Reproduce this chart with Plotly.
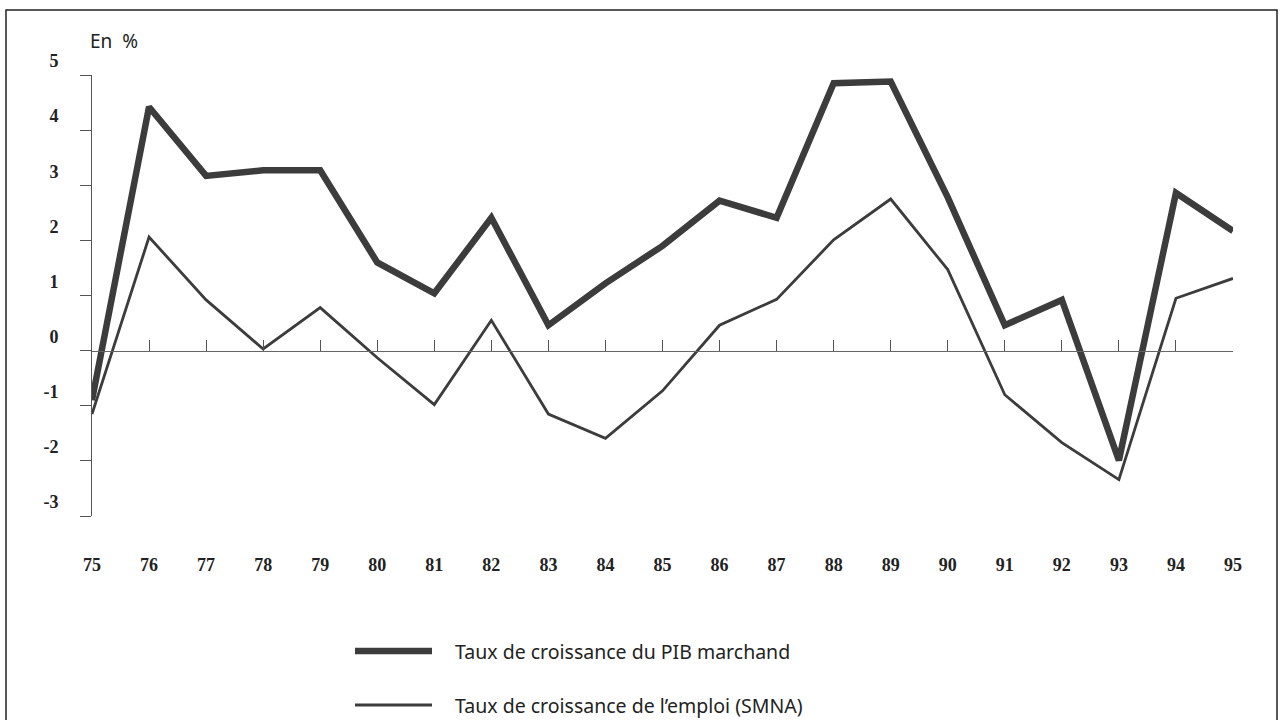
import plotly.graph_objects as go

# ---- data ----
years = list(range(75, 96))
year_labels = [str(y) for y in years]
pib_marchand = [-0.9, 4.42, 3.17, 3.27, 3.27, 1.6, 1.04, 2.41, 0.46, 1.22, 1.9, 2.72, 2.41,
                4.85, 4.88, 2.78, 0.46, 0.92, -1.99, 2.86, 2.17]
emploi_smna = [-1.15, 2.06, 0.92, 0.03, 0.78, -0.13, -0.98, 0.55, -1.15, -1.59, -0.73, 0.46, 0.93,
               2.01, 2.75, 1.47, -0.8, -1.67, -2.34, 0.95, 1.31]
y_ticks = [5, 4, 3, 2, 1, 0, -1, -2, -3]
y_tick_labels = ["5", "4", "3", "2", "1", "0", "-1", "-2", "-3"]
legend_names = ["Taux de croissance du PIB marchand", "Taux de croissance de l\u2019emploi (SMNA)"]

W, H = 1282, 720
L, R, T, B = 92, 49, 75, 204
PW, PH = W - L - R, H - T - B


def px(x):
    return (x - L) / PW


def py(y):
    return (H - B - y) / PH


LINE_COL = "#3c3c3c"
TXT_COL = "#222222"

fig = go.Figure()
fig.add_trace(go.Scatter(x=years, y=pib_marchand, mode="lines", name=legend_names[0],
                         line=dict(color=LINE_COL, width=6.5), showlegend=False, hoverinfo="skip",
                         xaxis="x", yaxis="y"))
fig.add_trace(go.Scatter(x=years, y=emploi_smna, mode="lines", name=legend_names[1],
                         line=dict(color=LINE_COL, width=2.8), showlegend=False, hoverinfo="skip",
                         xaxis="x2", yaxis="y"))

tick_font = dict(family="Liberation Serif", size=18, color=TXT_COL)

fig.update_layout(
    width=W, height=H,
    margin=dict(l=L, r=R, t=T, b=B),
    paper_bgcolor="white", plot_bgcolor="white",
    xaxis=dict(range=[75, 95], tickvals=years, ticktext=["<b>%s</b>" % t for t in year_labels],
               showgrid=False, zeroline=False, showline=False, ticks="",
               tickfont=tick_font, ticklabelstandoff=36, fixedrange=True),
    xaxis2=dict(range=[75, 95], overlaying="x", anchor="free", position=py(351),
                tickvals=years, showticklabels=False, showgrid=False, zeroline=False,
                showline=True, linecolor="#666", linewidth=1,
                ticks="inside", ticklen=11, tickcolor="#555", tickwidth=1, fixedrange=True),
    yaxis=dict(range=[-3, 5], tickvals=y_ticks, ticktext=["<b>%s</b>" % t for t in y_tick_labels],
               showgrid=False, zeroline=False, showline=True, linecolor="#555", linewidth=1,
               ticks="outside", ticklen=11, tickcolor="#555", tickwidth=1,
               tickfont=tick_font, ticklabelshift=-14, ticklabelstandoff=18, fixedrange=True),
    showlegend=False,
)

# frame around the figure
fig.add_shape(type="rect", xref="paper", yref="paper",
              x0=px(6), x1=px(1277), y0=py(740), y1=py(10),
              line=dict(color="#222", width=1.5), fillcolor="rgba(0,0,0,0)", layer="below")

# unit label
fig.add_annotation(text="En\u00a0\u00a0%", xref="paper", yref="paper", x=px(88), y=py(41),
                   xanchor="left", yanchor="middle", showarrow=False,
                   font=dict(family="Noto Sans", size=19, color=TXT_COL))

# custom legend
leg_font = dict(family="Noto Sans", size=19.5, color=TXT_COL)
for name, width, ypix in [(legend_names[0], 6.5, 651), (legend_names[1], 2.8, 705)]:
    fig.add_shape(type="line", xref="paper", yref="paper",
                  x0=px(355), x1=px(432), y0=py(ypix), y1=py(ypix),
                  line=dict(color=LINE_COL, width=width))
    fig.add_annotation(text=name, xref="paper", yref="paper", x=px(453), y=py(ypix),
                       xanchor="left", yanchor="middle", showarrow=False, font=leg_font)

fig.write_html("out.html", config={"displayModeBar": False},
               post_script="document.body.style.margin='0';")
